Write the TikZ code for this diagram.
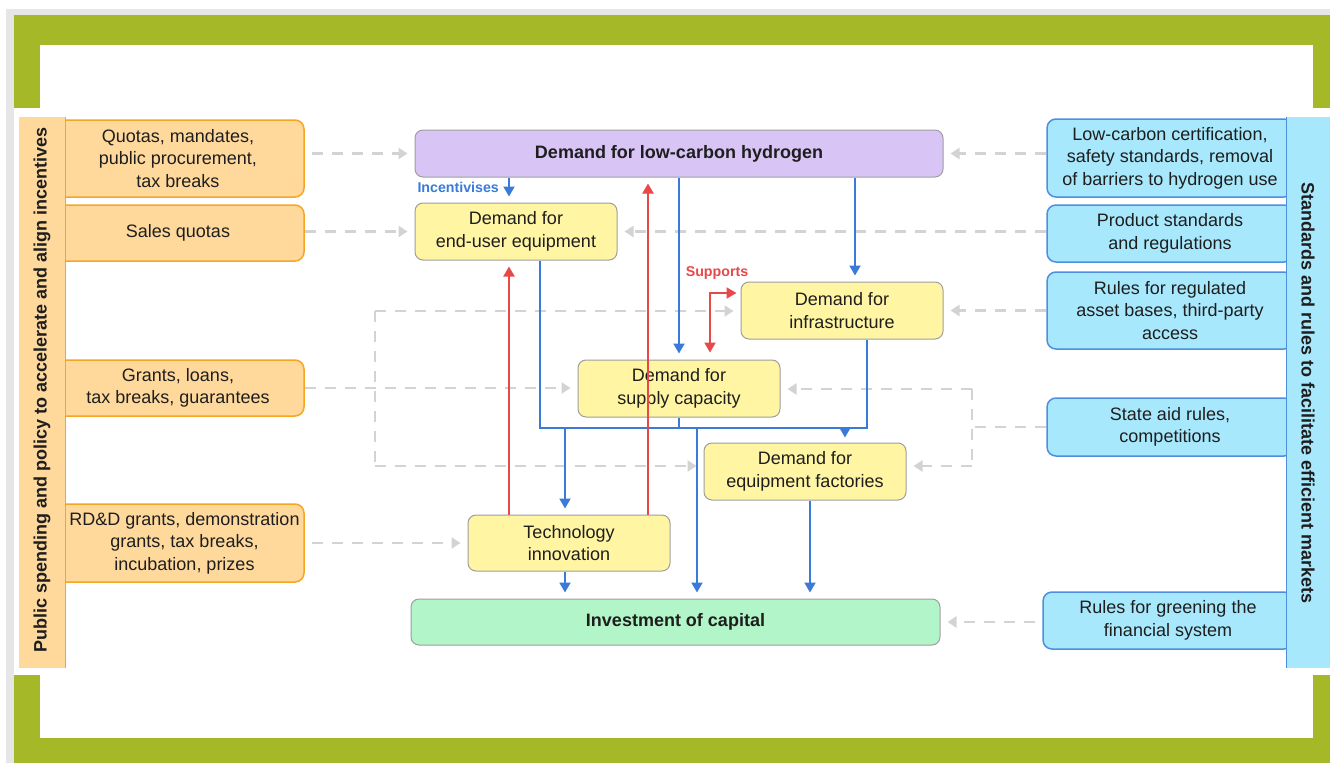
\documentclass[tikz,border=0pt]{standalone}
\usepackage{fontspec}
\setmainfont{Liberation Sans}
\usetikzlibrary{arrows.meta}
\definecolor{framegreen}{HTML}{A5B827}
\definecolor{bggray}{HTML}{E6E6E6}
\definecolor{orfill}{HTML}{FFD99C}
\definecolor{orline}{HTML}{F5A623}
\definecolor{blfill}{HTML}{A8E8FC}
\definecolor{blline}{HTML}{4C8FE0}
\definecolor{lav}{HTML}{D8C5F5}
\definecolor{ylw}{HTML}{FFF5A3}
\definecolor{mint}{HTML}{B2F5C8}
\definecolor{boxline}{HTML}{9E9E9E}
\definecolor{blueA}{HTML}{3A7BDA}
\definecolor{redA}{HTML}{E84848}
\definecolor{dgray}{HTML}{D3D3D3}
\definecolor{txt}{HTML}{1E1E1E}
\newcommand{\fsN}{\fontsize{18}{22.5}\selectfont}
\tikzset{
  cbox/.style={draw=boxline, line width=1pt, rounded corners=8pt, align=center, font=\fsN, text=txt, inner sep=0pt, minimum width=202pt, minimum height=57pt, fill=ylw},
  obox/.style={draw=orline, line width=1.5pt, rounded corners=9pt, align=center, font=\fsN, text=txt, inner sep=0pt, minimum width=252pt, fill=orfill},
  bbox/.style={draw=blline, line width=1.5pt, rounded corners=9pt, align=center, font=\fsN, text=txt, inner sep=0pt, minimum width=246pt, fill=blfill},
  plaintext/.style={align=center, font=\fsN, text=txt, inner sep=0pt},
  gline/.style={draw=dgray, line width=2.2pt, dash pattern=on 11pt off 9pt},
  garrow/.style={gline, -{Triangle[width=11pt,length=9pt,fill=dgray]}, shorten >=7pt, shorten <=7pt},
  bl/.style={draw=blueA, line width=2pt},
  barrow/.style={bl, -{Triangle[width=11pt,length=10pt]}, shorten >=6pt},
  rl/.style={draw=redA, line width=2pt},
  rarrow/.style={rl, -{Triangle[width=11pt,length=10pt]}, shorten >=6pt},
  lbl/.style={font=\bfseries\fontsize{14.2}{16}\selectfont, inner sep=0pt},
}
\begin{document}
\begin{tikzpicture}[x=1pt,y=-1pt]
\useasboundingbox (0,0) rectangle (1330,763);
\fill[white] (0,0) rectangle (1330,763);
\fill[bggray] (6,9) rectangle (1330,763);
\fill[framegreen] (14,15) rectangle (1330,763);
\fill[white] (40,45) rectangle (1313,738);
\fill[white] (14,108) rectangle (1330,675);

% left boxes
\node[obox, minimum height=77pt] (L1) at (178,158.5) {Quotas, mandates,\\public procurement,\\tax breaks};
\node[obox, minimum height=56pt] (L2) at (178,233) {Sales quotas};
\node[obox, minimum height=56pt] (L3) at (178,388) {Grants, loans,\\tax breaks, guarantees};
\node[obox, minimum height=78pt] (L4) at (178,543) {};
\node[plaintext] (L4t) at (184.5,543) {RD\&D grants, demonstration\\grants, tax breaks,\\incubation, prizes};
\fill[orfill] (19,117) rectangle (66,668);
\draw[orline, line width=1pt] (65.5,117) -- (65.5,668);
\node[rotate=90, font=\bfseries\fontsize{18}{20}\selectfont, text=txt] (lbar) at (42,390) {Public spending and policy to accelerate and align incentives};

% right boxes
\node[bbox, minimum height=78pt] (R1) at (1170,158) {Low-carbon certification,\\safety standards, removal\\of barriers to hydrogen use};
\node[bbox, minimum height=57pt] (R2) at (1170,233.5) {Product standards\\and regulations};
\node[bbox, minimum height=77pt] (R3) at (1170,310.5) {Rules for regulated\\asset bases, third-party\\access};
\node[bbox, minimum height=58pt] (R4) at (1170,427) {State aid rules,\\competitions};
\node[bbox, minimum height=57pt, minimum width=250pt] (R5) at (1168,620.5) {Rules for greening the\\financial system};
\fill[blfill] (1286,117) rectangle (1330,668);
\draw[blline, line width=1.5pt] (1286.5,117) -- (1286.5,668);
\node[rotate=-90, font=\bfseries\fontsize{18}{20}\selectfont, text=txt] (rbar) at (1308,393) {Standards and rules to facilitate efficient markets};

% central nodes
\node[cbox, fill=lav, minimum width=528pt, minimum height=47pt, font=\bfseries\fsN] (hyd) at (679,153.5) {Demand for low-carbon hydrogen};
\node[cbox] (enduser) at (516,231.5) {Demand for\\end-user equipment};
\node[cbox] (infra) at (842,310.5) {Demand for\\infrastructure};
\node[cbox] (supply) at (679,388.5) {Demand for\\supply capacity};
\node[cbox] (factories) at (805,471.5) {Demand for\\equipment factories};
\node[cbox, minimum height=56pt] (tech) at (569,543) {Technology\\innovation};
\node[cbox, fill=mint, minimum width=529pt, minimum height=46pt, font=\bfseries\fsN] (invest) at (675.5,622) {Investment of capital};

% guide coordinates
\coordinate (vA) at (509,0);
\coordinate (vB) at (540,0);
\coordinate (vC) at (565,0);
\coordinate (vD) at (648,0);
\coordinate (vE) at (679,0);
\coordinate (vF) at (697,0);
\coordinate (vG) at (710,0);
\coordinate (vK) at (810,0);
\coordinate (vH) at (845,0);
\coordinate (vI) at (855,0);
\coordinate (vJ) at (867,0);
\coordinate (hBus) at (0,428);
\coordinate (hSup) at (0,293);
\coordinate (gt) at (375,311);
\coordinate (gb) at (375,466);
\coordinate (rt) at (972,389);
\coordinate (rb) at (972,466);

% gray dashed connectors
\draw[garrow] (L1.east |- hyd.west) -- (hyd.west);
\draw[garrow, shorten <=0pt] (L2.east |- enduser.west) -- (enduser.west);
\draw[garrow, shorten <=0pt] (L3.east) -- (L3.east -| supply.west);
\draw[gline] (gt) -- (gb);
\draw[garrow, shorten <=0pt] (gt) -- (gt -| infra.west);
\draw[garrow, shorten <=0pt] (gb) -- (gb -| factories.west);
\draw[garrow] (L4.east |- tech.west) -- (tech.west);
\draw[garrow, shorten <=0pt] (R1.west |- hyd.east) -- (hyd.east);
\draw[garrow, shorten <=0pt] (R2.west |- enduser.east) -- (enduser.east);
\draw[garrow, shorten <=0pt] (R3.west |- infra.east) -- (infra.east);
\draw[gline] (R4.west) -- (R4.west -| rt);
\draw[gline] (rt) -- (rb);
\draw[garrow, shorten <=0pt] (rt) -- (rt -| supply.east);
\draw[garrow, shorten <=0pt] (rb) -- (rb -| factories.east);
\draw[garrow] (R5.west |- invest.east) -- (invest.east);

% blue connectors
\draw[barrow] (vA |- hyd.south) -- (vA |- enduser.north);
\draw[barrow] (vE |- hyd.south) -- (vE |- supply.north);
\draw[barrow] (vI |- hyd.south) -- (vI |- infra.north);
\draw[bl] (vB |- enduser.south) -- (vB |- hBus) -- (vJ |- hBus) -- (vJ |- infra.south);
\draw[bl] (vE |- supply.south) -- (vE |- hBus);
\draw[barrow] (vC |- hBus) -- (vC |- tech.north);
\draw[barrow] (vF |- hBus) -- (vF |- invest.north);
\draw[barrow, shorten >=5pt] (vH |- hBus) -- (vH |- factories.north);
\draw[barrow] (vC |- tech.south) -- (vC |- invest.north);
\draw[barrow] (vK |- factories.south) -- (vK |- invest.north);

% red connectors
\draw[rarrow] (vA |- tech.north) -- (vA |- enduser.south);
\draw[rarrow] (vD |- tech.north) -- (vD |- hyd.south);
\draw[rl, {Triangle[width=11pt,length=10pt]}-{Triangle[width=11pt,length=10pt]}, shorten <=7pt, shorten >=4pt] (vG |- supply.north) -- (vG |- hSup) -- (infra.west |- hSup);

% labels
\node[lbl, text=blueA, anchor=east] (lbInc) at (499,187) {Incentivises};
\node[lbl, text=redA] (lbSup) at (717,273) {Supports};
\end{tikzpicture}
\end{document}
